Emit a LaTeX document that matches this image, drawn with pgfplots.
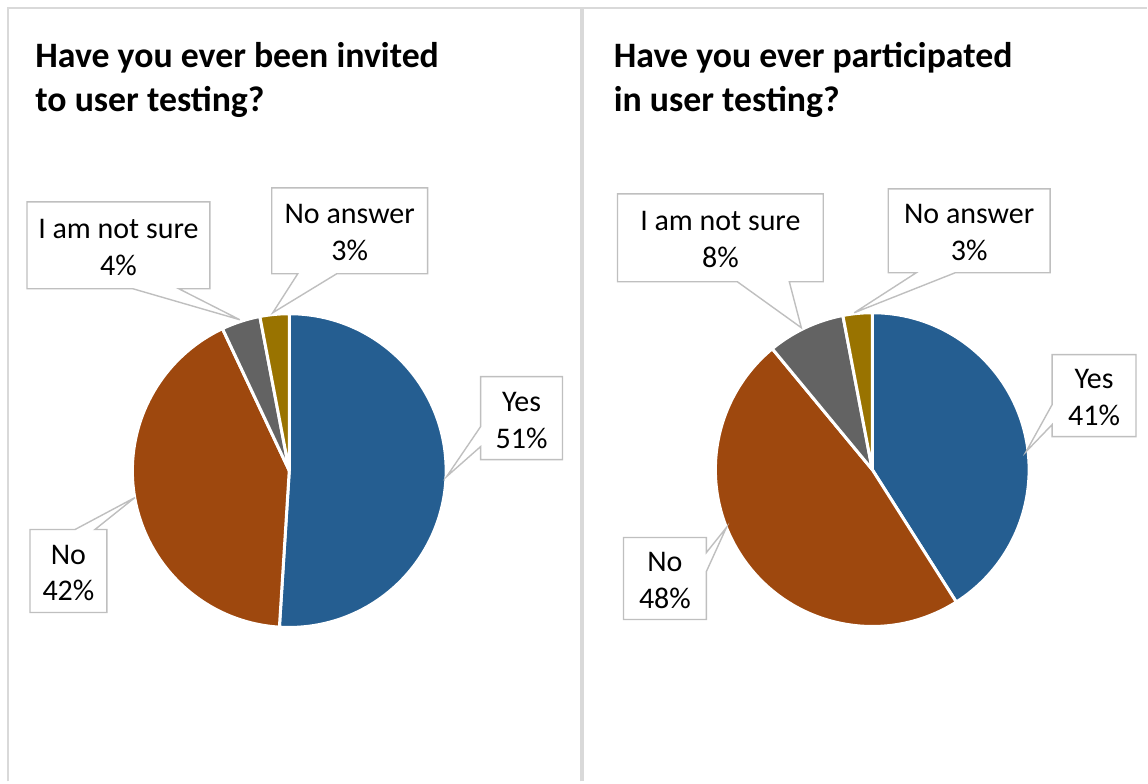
\documentclass[border=0pt]{standalone}
\usepackage{pgfplots}
\usepackage{pgfplotstable}
\pgfplotsset{compat=1.18}
\usepackage{fontspec}
\setmainfont{Carlito}

\definecolor{pieblue}{HTML}{255E91}
\definecolor{piebrown}{HTML}{9E480E}
\definecolor{piegray}{HTML}{636363}
\definecolor{piegold}{HTML}{997300}
\definecolor{framegray}{HTML}{D9D9D9}
\definecolor{calloutgray}{HTML}{BFBFBF}

\tikzset{
  callout/.style={draw=calloutgray, fill=white, line width=0.7pt},
  lbl/.style={align=center, font=\fontsize{15}{18.5}\selectfont, inner sep=0pt},
  ttl/.style={align=left, anchor=base west, inner sep=0pt,
    font=\fontsize{17.9}{22.3}\selectfont\bfseries},
}

% shares in percent, clockwise from 12 o'clock
\pgfplotstableread{
label value color
Yes 51 pieblue
No 42 piebrown
{I am not sure} 4 piegray
{No answer} 3 piegold
}\invited

\pgfplotstableread{
label value color
Yes 41 pieblue
No 48 piebrown
{I am not sure} 8 piegray
{No answer} 3 piegold
}\participated

% #1 table, #2 #3 centre (axis units = px), radius 157 px = 78.5pt
\newcommand\piechart[3]{%
  \pgfplotstablegetrowsof{#1}%
  \pgfmathtruncatemacro\lastrow{\pgfplotsretval-1}%
  \gdef\cum{0}%
  \foreach \i in {0,...,\lastrow}{%
    \pgfplotstablegetelem{\i}{value}\of{#1}\let\sliceval\pgfplotsretval
    \pgfplotstablegetelem{\i}{color}\of{#1}\let\slicecol\pgfplotsretval
    \pgfmathsetmacro\sa{90-3.6*\cum}%
    \pgfmathsetmacro\sb{90-3.6*(\cum+\sliceval)}%
    \fill[fill=\slicecol, draw=white, line width=1.5pt, line join=round]
      (axis cs:#2,#3) -- (axis cs:{#2+157*cos(\sa)},{#3+157*sin(\sa)})
      arc[start angle=\sa, end angle=\sb, radius=78.5pt] -- cycle;
    \pgfmathsetmacro\newcum{\cum+\sliceval}\global\let\cum\newcum
  }%
}

\begin{document}
\begin{tikzpicture}
\begin{axis}[
  hide axis, x=0.5pt, y=0.5pt,
  xmin=0, xmax=1148, ymin=0, ymax=782,
  clip=false,
]
% keep the full canvas as bounding box
\path (axis cs:0,0) rectangle (axis cs:1148,782);
% frame
\draw[framegray, line width=1pt] (axis cs:8,0) -- (axis cs:8,774) -- (axis cs:1148,774);
\draw[framegray, line width=2pt] (axis cs:582,0) -- (axis cs:582,774);

% titles (anchored at the baseline of the second line)
\node[ttl] at (axis cs:35,670) {Have you ever been invited\\to user testing?};
\node[ttl] at (axis cs:614,670) {Have you ever participated\\in user testing?};

\pgfplotsextra{%
  \piechart{\invited}{289.5}{311}%
  \piechart{\participated}{873}{312}%
}

% callouts, left chart
\draw[callout] (axis cs:27,580) -- (axis cs:210,580) -- (axis cs:210,493) -- (axis cs:179,493)
  -- (axis cs:240,462) -- (axis cs:133,493) -- (axis cs:27,493) -- cycle;
\node[lbl] at (axis cs:118.5,534.5) {I am not sure\\4\%};
\draw[callout] (axis cs:272,594) -- (axis cs:428,594) -- (axis cs:428,508) -- (axis cs:337,508)
  -- (axis cs:273,469) -- (axis cs:298,508) -- (axis cs:272,508) -- cycle;
\node[lbl] at (axis cs:350,549) {No answer\\3\%};
\draw[callout] (axis cs:481,405) -- (axis cs:563,405) -- (axis cs:563,322) -- (axis cs:481,322)
  -- (axis cs:481,335) -- (axis cs:447,305) -- (axis cs:481,355) -- cycle;
\node[lbl] at (axis cs:522,361.5) {Yes\\51\%};
\draw[callout] (axis cs:30,252) -- (axis cs:75,252) -- (axis cs:135,284) -- (axis cs:95,252)
  -- (axis cs:107,252) -- (axis cs:107,169) -- (axis cs:30,169) -- cycle;
\node[lbl] at (axis cs:68.5,208.5) {No\\42\%};

% callouts, right chart
\draw[callout] (axis cs:618,588) -- (axis cs:824,588) -- (axis cs:824,500) -- (axis cs:790,500)
  -- (axis cs:802,454) -- (axis cs:738,500) -- (axis cs:618,500) -- cycle;
\node[lbl] at (axis cs:721,542) {I am not sure\\8\%};
\draw[callout] (axis cs:889,593) -- (axis cs:1051,593) -- (axis cs:1051,509) -- (axis cs:956,509)
  -- (axis cs:855,469) -- (axis cs:917,509) -- (axis cs:889,509) -- cycle;
\node[lbl] at (axis cs:970,549) {No answer\\3\%};
\draw[callout] (axis cs:1053,427) -- (axis cs:1137,427) -- (axis cs:1137,345) -- (axis cs:1053,345)
  -- (axis cs:1053,357) -- (axis cs:1027,330) -- (axis cs:1053,377) -- cycle;
\node[lbl] at (axis cs:1095,384) {Yes\\41\%};
\draw[callout] (axis cs:624,244) -- (axis cs:707,244) -- (axis cs:707,229) -- (axis cs:727,254)
  -- (axis cs:707,210) -- (axis cs:707,162) -- (axis cs:624,162) -- cycle;
\node[lbl] at (axis cs:665.5,201) {No\\48\%};
\end{axis}
\end{tikzpicture}
\end{document}
